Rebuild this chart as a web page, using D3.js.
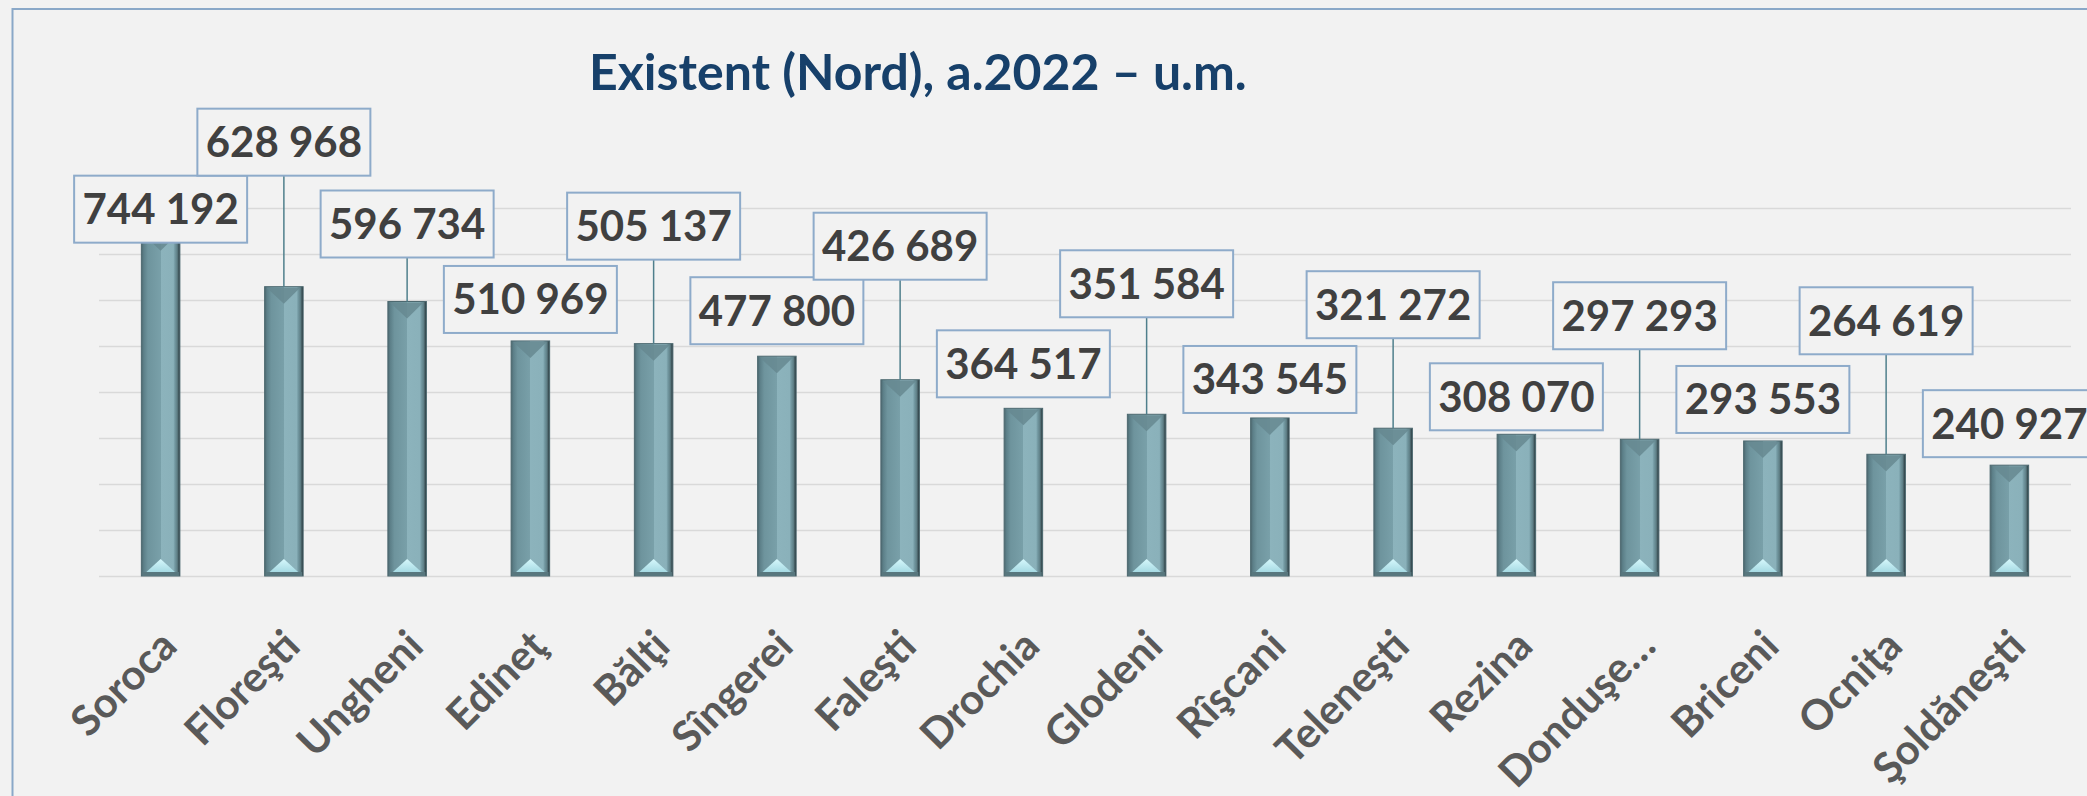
<!DOCTYPE html>
<html>
<head>
<meta charset="utf-8">
<script src="https://cdn.jsdelivr.net/npm/d3@7"></script>
<style>
  body { margin: 0; background: #f2f2f2; }
  svg { display: block; }
  .grid line { stroke: #d9d9d9; stroke-width: 1.6; }
  .cat text { font-family: Lato, "Open Sans", sans-serif; font-weight: 700; fill: #595959; }
</style>
</head>
<body>
<div id="viz"></div>
<script>
//
// Existent (Nord), a.2022 - bar chart with boxed data labels.
//

var districts = ["Soroca", "Floreşti", "Ungheni", "Edineţ", "Bălţi", "Sîngerei", "Faleşti", "Drochia",
                 "Glodeni", "Rîşcani", "Teleneşti", "Rezina", "Donduşe…", "Briceni", "Ocniţa", "Şoldăneşti"];

var existent = [744192, 628968, 596734, 510969, 505137, 477800, 426689, 364517,
                351584, 343545, 321272, 308070, 297293, 293553, 264619, 240927];

var yTicks = [0, 100000, 200000, 300000, 400000, 500000, 600000, 700000, 800000];

var chartTitle = "Existent (Nord), a.2022 – u.m.";

// how far each label box sits above its bar (px), set by hand in the original
var labelLift = [-9, 111, 44, 8, 84, 12, 100, 11, 97, 5, 90, 4, 90, 8, 100, 8];

const width = 2087, height = 796;
const plot = { left: 99, right: 2071, top: 208, bottom: 576 };
const boxW = 173, boxH = 67;

const fmt = d3.formatLocale({ decimal: ",", thousands: " ", grouping: [3], currency: ["", ""] }).format(",d");

const rows = districts.map((name, i) => ({ name: name, value: existent[i], lift: labelLift[i] }));

const svg = d3.select('#viz').append('svg')
  .attr("width", width)
  .attr("height", height);

// bar gradient
const defs = svg.append('defs');
const grad = defs.append('linearGradient').attr('id', 'barGrad')
  .attr('x1', '0%').attr('x2', '100%').attr('y1', '0%').attr('y2', '0%');
[[0, '#4c676e'], [0.06, '#5c7f88'], [0.17, '#6e949d'], [0.5, '#79a0a9'],
 [0.5, '#8cb3bc'], [0.83, '#8ab1ba'], [0.87, '#7399a2'], [0.93, '#5f7f86'], [1, '#223034']]
  .forEach(s => grad.append('stop').attr('offset', s[0]).attr('stop-color', s[1]));
const glow = defs.append('linearGradient').attr('id', 'glowGrad')
  .attr('x1', '0%').attr('x2', '0%').attr('y1', '0%').attr('y2', '100%');
glow.append('stop').attr('offset', 0).attr('stop-color', '#d6f8fc');
glow.append('stop').attr('offset', 1).attr('stop-color', '#a6dae3');

// outer frame (cut off by the picture on the right and bottom)
svg.append('rect')
  .attr('x', 12.5).attr('y', 9).attr('width', width + 20).attr('height', height + 20)
  .style('fill', 'none').style('stroke', '#8aa8c8').style('stroke-width', 2);

const x = d3.scaleBand()
  .domain(districts)
  .range([plot.left, plot.right])
  .paddingInner(0.6875)
  .paddingOuter(0.34375);

const y = d3.scaleLinear()
  .domain([0, 800000])
  .range([plot.bottom, plot.top]);

// gridlines
svg.append('g').attr('class', 'grid')
  .attr('transform', `translate(${plot.left},0)`)
  .call(d3.axisLeft(y).tickValues(yTicks).tickSize(-(plot.right - plot.left)).tickFormat(''))
  .call(g => g.select('.domain').remove());

// bars
const bw = x.bandwidth();
const bars = svg.append('g').selectAll('g')
  .data(rows)
  .join('g');

bars.append('rect')
  .attr('x', d => x(d.name))
  .attr('y', d => y(d.value))
  .attr('width', bw)
  .attr('height', d => y(0) - y(d.value))
  .style('fill', 'url(#barGrad)')
  .style('stroke', '#4d6970')
  .style('stroke-width', 1);

// top bevel
bars.append('polygon')
  .attr('points', d => {
    var x0 = x(d.name), yt = y(d.value);
    return [[x0 + 2, yt + 1], [x0 + bw - 3, yt + 1], [x0 + bw / 2, yt + 17]].join(' ');
  })
  .style('fill', '#668890').style('opacity', 0.85);

// bottom bevel
bars.append('rect')
  .attr('x', d => x(d.name) + 1)
  .attr('y', y(0) - 4)
  .attr('width', bw - 2)
  .attr('height', 4)
  .style('fill', '#58777e');
bars.append('polygon')
  .attr('points', d => {
    var x0 = x(d.name), yb = y(0) - 4;
    return [[x0 + 5, yb], [x0 + bw - 5, yb], [x0 + bw / 2, yb - 13]].join(' ');
  })
  .style('fill', 'url(#glowGrad)');

// category labels
svg.append('g').attr('class', 'cat')
  .attr('transform', `translate(0,${plot.bottom})`)
  .call(d3.axisBottom(x).tickSize(0).tickPadding(0))
  .call(g => g.select('.domain').remove())
  .selectAll('text')
    .attr('y', 0)
    .attr('dy', '0.35em')
    .attr('transform', 'translate(8,62) rotate(-45)')
    .style('text-anchor', 'end')
    .style('font-size', '42px');

// data labels
const labels = svg.append('g').selectAll('g')
  .data(rows)
  .join('g');

labels.filter(d => d.lift > 20)
  .append('line')
  .attr('x1', d => x(d.name) + bw / 2)
  .attr('x2', d => x(d.name) + bw / 2)
  .attr('y1', d => y(d.value) - d.lift)
  .attr('y2', d => y(d.value))
  .style('stroke', '#4f7f8c')
  .style('stroke-width', 1.5);

labels.append('rect')
  .attr('x', d => x(d.name) + bw / 2 - boxW / 2)
  .attr('y', d => y(d.value) - d.lift - boxH)
  .attr('width', boxW)
  .attr('height', boxH)
  .style('fill', '#f2f2f2')
  .style('stroke', '#8eabca')
  .style('stroke-width', 2);

labels.append('text')
  .attr('x', d => x(d.name) + bw / 2)
  .attr('y', d => y(d.value) - d.lift - boxH / 2 + 15)
  .attr('text-anchor', 'middle')
  .style('font-family', 'Lato, "Open Sans", sans-serif')
  .style('font-weight', 700)
  .style('font-size', '42px')
  .style('fill', '#404040')
  .text(d => fmt(d.value));

// title
svg.append('text')
  .attr('x', 589)
  .attr('y', 90)
  .style('font-family', 'Lato, "Open Sans", sans-serif')
  .style('font-weight', 700)
  .style('font-size', '50px')
  .style('fill', '#17406a')
  .text(chartTitle);
</script>
</body>
</html>
